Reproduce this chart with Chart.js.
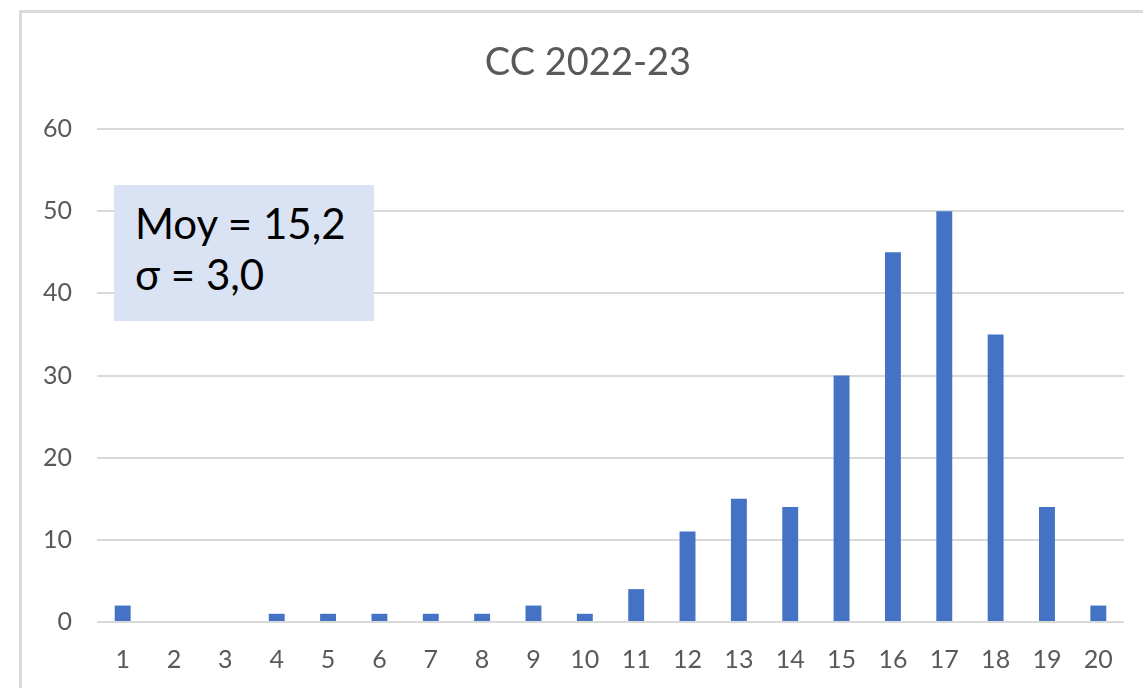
<!DOCTYPE html>
<html>
<head>
<meta charset="utf-8">
<script src="https://cdn.jsdelivr.net/npm/chart.js@4"></script>
<style>
  html, body { margin: 0; padding: 0; background: #fff; overflow: hidden; }
  #wrap { position: relative; width: 1143px; height: 688px; }
  #frame {
    position: absolute; left: 19px; top: 10px; width: 1200px; height: 800px;
    border: 3px solid #d9d9d9; box-sizing: border-box;
  }
  canvas { position: absolute; left: 0; top: 0; }
  #title {
    position: absolute; left: 0; top: 37px; width: 1176px; text-align: center;
    font-family: Lato, "Open Sans", sans-serif; font-size: 38px; line-height: 46px; color: #595959;
  }
  #stats {
    position: absolute; left: 114px; top: 185px; width: 260px; height: 136px;
    background: #dae3f3; box-sizing: border-box; padding: 13px 0 0 21px;
    font-family: Lato, "Open Sans", sans-serif; font-size: 42px; line-height: 51px; color: #000;
  }
</style>
</head>
<body>
<div id="wrap">
  <div id="frame"></div>
  <canvas id="chart" width="1143" height="688"></canvas>
  <div id="title"></div>
  <div id="stats">Moy = 15,2<br>σ = 3,0</div>
</div>
<script>
const categories = ["1","2","3","4","5","6","7","8","9","10","11","12","13","14","15","16","17","18","19","20"]
const counts = [2, 0, 0, 1, 1, 1, 1, 1, 2, 1, 4, 11, 15, 14, 30, 45, 50, 35, 14, 2]
const chartTitle = "CC 2022-23"
const yMax = 60
const yStep = 10

const textColor = "#595959"
const gridColor = "#d9d9d9"
const fontFamily = "Lato, 'Open Sans', sans-serif"

document.getElementById("title").textContent = chartTitle

new Chart(document.getElementById("chart").getContext("2d"), {
  type: "bar",
  data: {
    labels: categories,
    datasets: [{
      data: counts,
      backgroundColor: "#4472c4",
      borderWidth: 0,
      barPercentage: 0.31,
      categoryPercentage: 1,
    }],
  },
  options: {
    responsive: false,
    animation: false,
    layout: { padding: { left: 20, right: 19, top: 129, bottom: 0 } },
    plugins: {
      legend: { display: false },
      tooltip: { enabled: false },
      title: { display: false },
    },
    scales: {
      x: {
        afterFit: (scale) => { scale.height = 66 },
        grid: { display: false, drawTicks: false },
        border: { display: false },
        ticks: {
          color: textColor,
          padding: 23,
          maxRotation: 0,
          font: { family: fontFamily, size: 25 },
        },
      },
      y: {
        min: 0,
        max: yMax,
        afterFit: (scale) => { scale.width = 77 },
        grid: { color: gridColor, lineWidth: 2, drawTicks: false },
        border: { display: false },
        ticks: {
          stepSize: yStep,
          color: textColor,
          padding: 25,
          font: { family: fontFamily, size: 25 },
        },
      },
    },
  },
})
</script>
</body>
</html>
